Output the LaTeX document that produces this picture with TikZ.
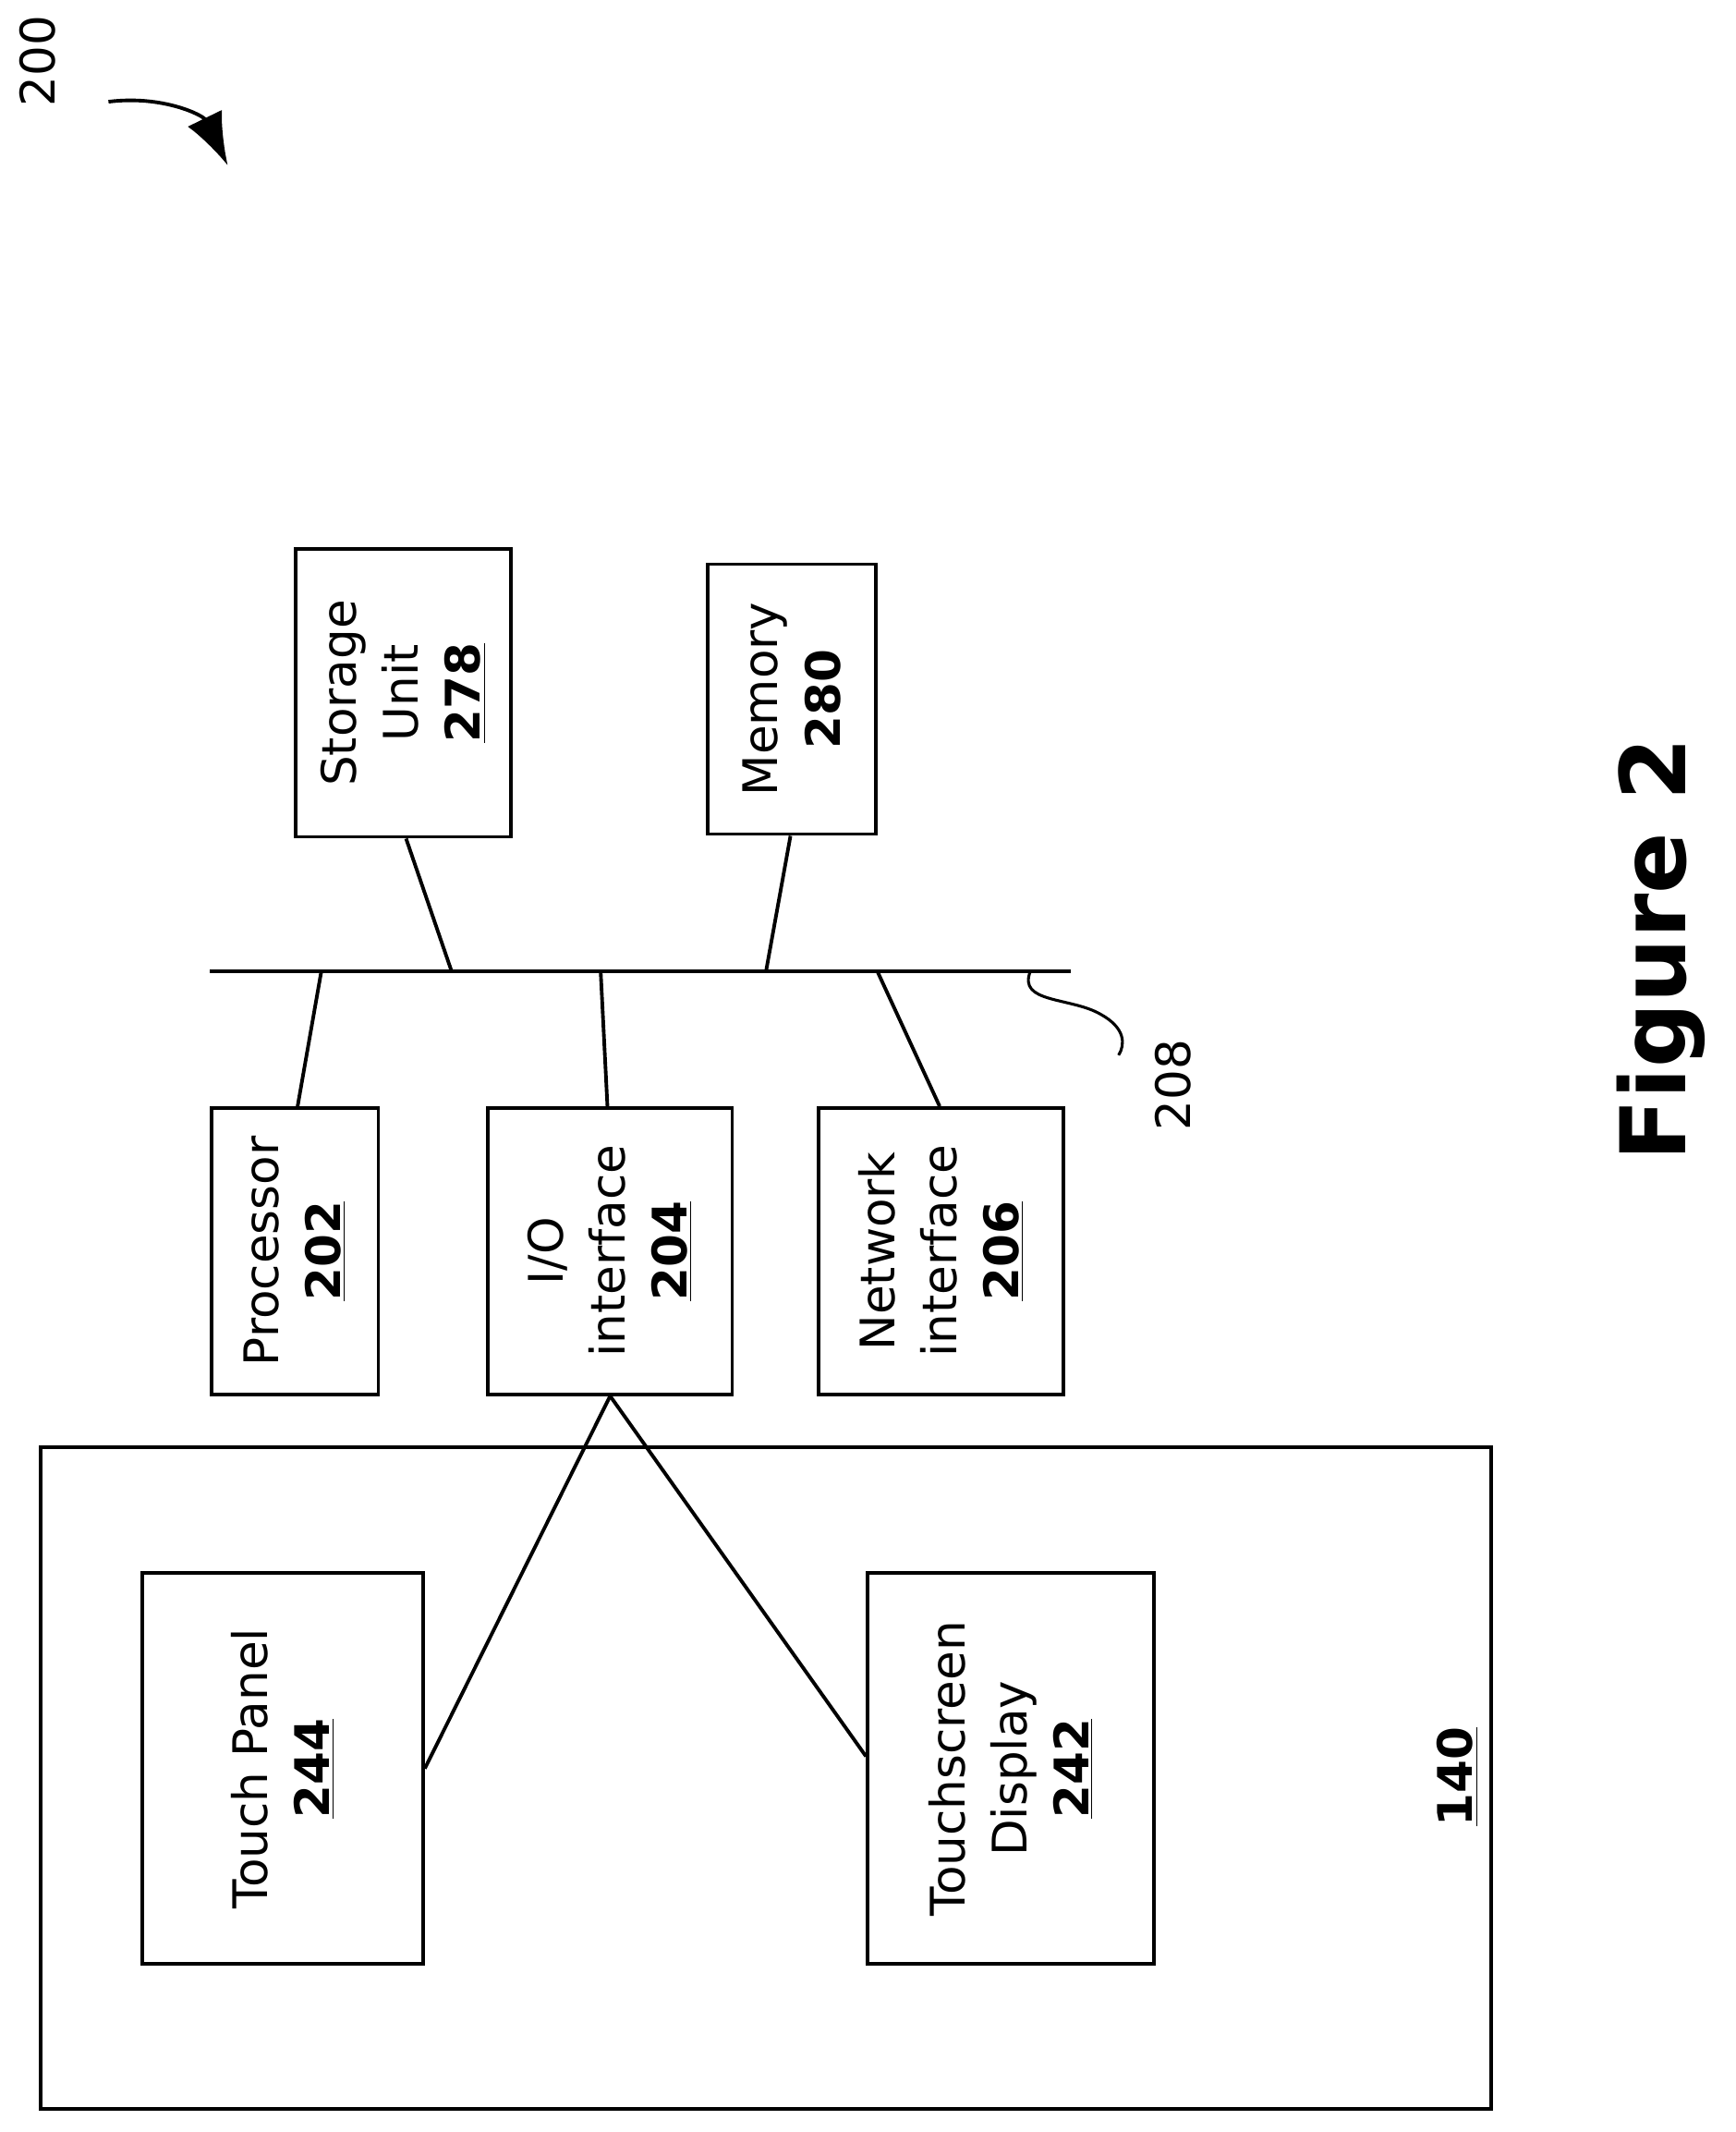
\documentclass[tikz,border=0pt]{standalone}
\usepackage{fontspec}
\setmainfont{DejaVu Sans}
\usetikzlibrary{calc,arrows.meta}
\begin{document}
\begin{tikzpicture}[x=0.02cm,y=-0.02cm,
  box/.style={draw,line width=1.5pt,rotate=90,align=center,inner sep=0pt,font=\fontsize{20}{26}\selectfont},
  ln/.style={line width=1.5pt}]
\useasboundingbox (0,0) rectangle (1280,1572);
\node[box,minimum width=212*0.02cm,minimum height=159*0.02cm] (sto) at (297.5,511) {Storage\\Unit\\\textbf{\underline{278}}};
\node[box,minimum width=199*0.02cm,minimum height=124*0.02cm] (mem) at (584,515.5) {Memory\\\textbf{280}};
\node[box,minimum width=211*0.02cm,minimum height=123*0.02cm] (pro) at (217.5,922.5) {Processor\\\textbf{\underline{202}}};
\node[box,minimum width=211*0.02cm,minimum height=180*0.02cm] (io) at (450,922.5) {I/O\\interface\\\textbf{\underline{204}}};
\node[box,minimum width=211*0.02cm,minimum height=180*0.02cm] (net) at (694,922.5) {Network\\interface\\\textbf{\underline{206}}};
\node[box,minimum width=488*0.02cm,minimum height=1070*0.02cm] (dev) at (565,1311) {};
\node[box,minimum width=288*0.02cm,minimum height=207*0.02cm] (tp) at (208.5,1304) {Touch Panel\\\textbf{\underline{244}}};
\node[box,minimum width=288*0.02cm,minimum height=211*0.02cm] (tsd) at (745.5,1304) {Touchscreen\\Display\\\textbf{\underline{242}}};
\node[rotate=90,font=\fontsize{20}{24}\selectfont\bfseries] (l140) at (1075,1310) {\underline{140}};
\node[rotate=90,font=\fontsize{38}{44}\selectfont\bfseries] (fig) at (1225,700) {Figure 2};
\node[rotate=90,font=\fontsize{20}{24}\selectfont] (l200) at (28,45) {200};
\node[rotate=90,font=\fontsize{20}{24}\selectfont] (l208) at (865,800) {208};
\coordinate (b1) at (155,716); \coordinate (b2) at (790,716);
\draw[ln] (b1) -- (b2);
\coordinate (bs) at (333,716); \coordinate (bm) at (565,716);
\coordinate (bp) at (237,716); \coordinate (bi) at (443,716); \coordinate (bn) at (647,716);
\coordinate (sq) at (760,716); \coordinate (sqe) at (825,778);
\draw[ln] ($(sto.west)+(2,0)$) -- (bs);
\draw[ln] ($(mem.west)+(-1,0)$) -- (bm);
\draw[ln] ($(pro.east)+(2,0)$) -- (bp);
\draw[ln] ($(io.east)+(-2,0)$) -- (bi);
\draw[ln] ($(net.east)+(-1,0)$) -- (bn);
\draw[line width=1.2pt] (sq) .. controls (750,740) and (790,735) .. (812,748) .. controls (830,758) and (830,770) .. (sqe);
\draw[ln] (io.west) -- (tp.south);
\draw[ln] (io.west) -- ($(tsd.north)+(0,-9)$);
\coordinate (a1) at (80,75); \coordinate (a2) at (168,122);
\draw[line width=1.5pt,-{Latex[length=22pt,width=16pt]}] (a1) .. controls (120,70) and (150,85) .. (a2);
\end{tikzpicture}
\end{document}
